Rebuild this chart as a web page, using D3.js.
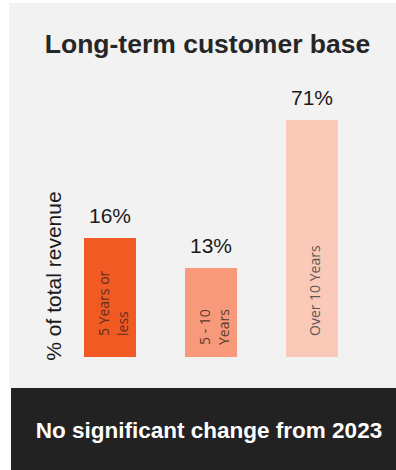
<!DOCTYPE html>
<html>
<head>
<meta charset="utf-8">
<script src="https://cdn.jsdelivr.net/npm/d3@7"></script>
<style>
  body { margin: 0; background: #ffffff; }
  svg { display: block; }
</style>
</head>
<body>
<svg></svg>
<script>
// chart data
var categories = ["5 Years or less", "5 - 10 Years", "Over 10 Years"];
var shares = [16, 13, 71];
var barLabels = [["5 Years or", "less"], ["5 - 10", "Years"], ["Over 10 Years"]];
var barColors = ["#f25a24", "#f7997a", "#fac9b7"];
var barTextColors = ["#5b2f22", "#5e3a2e", "#5c5656"];

const width = 396;
const height = 470;

var svg = d3.select("svg")
    .attr("width", width)
    .attr("height", height);

// grey card + dark footer
svg.append("rect")
    .attr("x", 9).attr("y", 3)
    .attr("width", width - 9).attr("height", 385)
    .attr("fill", "#f2f2f2");

svg.append("rect")
    .attr("x", 11).attr("y", 388)
    .attr("width", width - 11).attr("height", height - 388)
    .attr("fill", "#222222");

// title
svg.append("text")
    .attr("x", 207.5).attr("y", 53)
    .attr("text-anchor", "middle")
    .style("font-family", "'Liberation Sans', Arial, sans-serif")
    .style("font-weight", "bold")
    .style("font-size", "26.5px")
    .attr("fill", "#262626")
    .text("Long-term customer base");

// scales (the source chart is not drawn to scale, so the y scale is piecewise)
var x = d3.scaleBand()
    .domain(categories)
    .range([59.5, 362.5])
    .paddingInner(0.485)
    .paddingOuter(0.2425);

var y = d3.scaleLinear()
    .domain([0, 13, 16, 71])
    .range([357, 268, 238, 120]);

var bars = svg.append("g")
    .selectAll("g")
    .data(categories)
    .enter()
    .append("g");

bars.append("rect")
    .attr("x", function(d) { return x(d); })
    .attr("y", function(d, i) { return y(shares[i]); })
    .attr("width", x.bandwidth())
    .attr("height", function(d, i) { return y(0) - y(shares[i]); })
    .attr("fill", function(d, i) { return barColors[i]; });

// value labels
bars.append("text")
    .attr("x", function(d) { return x(d) + x.bandwidth() / 2; })
    .attr("y", function(d, i) { return y(shares[i]) - 15; })
    .attr("text-anchor", "middle")
    .style("font-family", "'Liberation Sans', Arial, sans-serif")
    .style("font-size", "21px")
    .attr("fill", "#1a1a1a")
    .text(function(d, i) { return shares[i] + "%"; });

// rotated category labels inside the bars
bars.each(function(d, i) {
    var cx = x(d) + x.bandwidth() / 2;
    var lines = barLabels[i];
    var n = lines.length;
    var g = d3.select(this);
    lines.forEach(function(line, j) {
        var bx = cx + 8 + (j - (n - 1) / 2) * 19;
        var by = y(0) - (i == 1 ? 12 : 21);
        g.append("text")
            .attr("transform", "translate(" + bx + "," + by + ") rotate(-90)")
            .attr("text-anchor", "start")
            .style("font-family", "'Open Sans', sans-serif")
            .style("font-size", "14px")
            .attr("fill", barTextColors[i])
            .text(line);
    });
});

// y axis title
svg.append("text")
    .attr("transform", "translate(61,276) rotate(-90)")
    .attr("text-anchor", "middle")
    .style("font-family", "'Liberation Sans', Arial, sans-serif")
    .style("font-size", "21px")
    .attr("fill", "#1a1a1a")
    .text("% of total revenue");

// footer note
svg.append("text")
    .attr("x", 209).attr("y", 438)
    .attr("text-anchor", "middle")
    .style("font-family", "'Liberation Sans', Arial, sans-serif")
    .style("font-weight", "bold")
    .style("font-size", "22.5px")
    .attr("fill", "#ffffff")
    .text("No significant change from 2023");
</script>
</body>
</html>
